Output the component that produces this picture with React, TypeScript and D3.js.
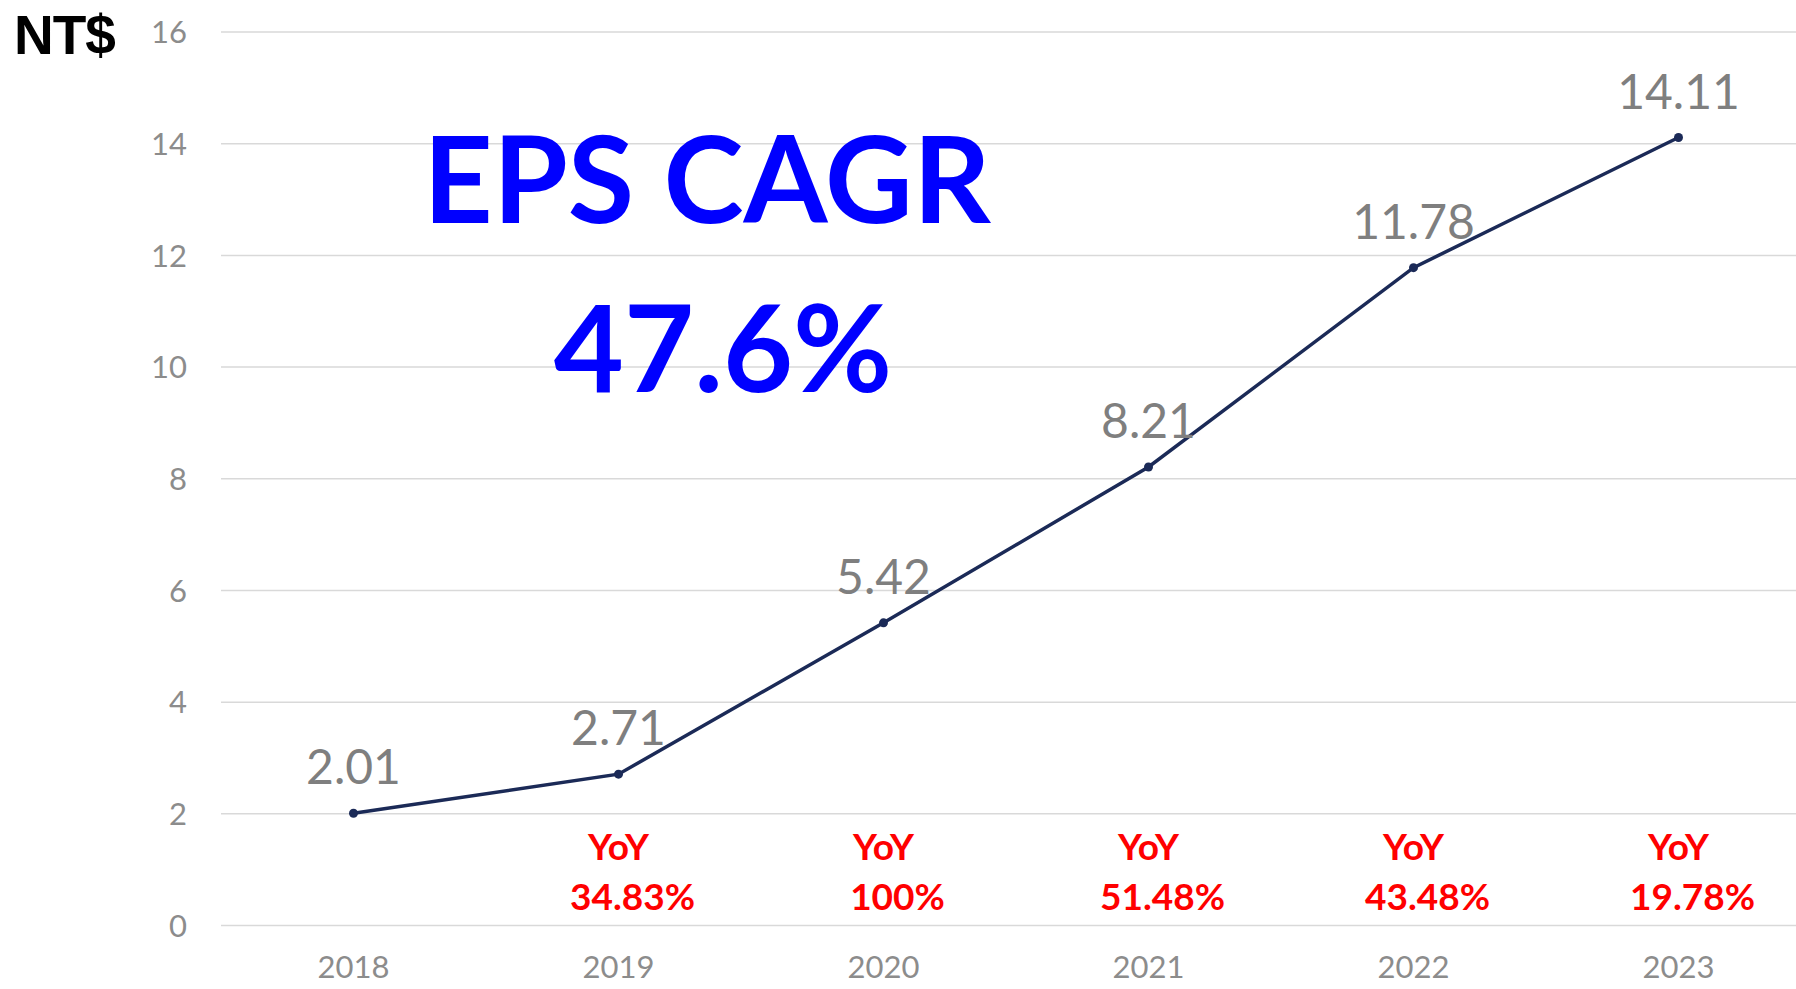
import React, { useRef, useEffect } from "react";
import * as d3 from "d3";

const years = ["2018", "2019", "2020", "2021", "2022", "2023"];
const eps = [2.01, 2.71, 5.42, 8.21, 11.78, 14.11];
const yoy = [null, "34.83%", "100%", "51.48%", "43.48%", "19.78%"];
const yTicks = [0, 2, 4, 6, 8, 10, 12, 14, 16];
const unitLabel = "NT$";
const titleLines = ["EPS CAGR", "47.6%"];

const W = 1796;
const H = 989;

export default function App() {
  const svgRef = useRef<SVGSVGElement>(null);

  useEffect(() => {
    document.body.style.margin = "0";
    document.body.style.overflow = "hidden";
    drawChart();
  }, []);

  function drawChart() {
    const svg = d3.select(svgRef.current);
    svg.selectAll("*").remove();

    const plot = { left: 221, right: 1811, top: 32, bottom: 925.5 };

    const xScale = d3
      .scaleBand()
      .domain(years)
      .range([plot.left, plot.right]);
    const xc = (d: string) => (xScale(d) as number) + xScale.bandwidth() / 2;

    const yScale = d3.scaleLinear().domain([0, 16]).range([plot.bottom, plot.top]);

    svg.append("rect").attr("width", W).attr("height", H).attr("fill", "#fff");

    // gridlines
    svg
      .append("g")
      .selectAll("line")
      .data(yTicks)
      .join("line")
      .attr("x1", plot.left)
      .attr("x2", plot.right)
      .attr("y1", (d) => yScale(d))
      .attr("y2", (d) => yScale(d))
      .attr("stroke", "#d9d9d9")
      .attr("stroke-width", 1.5);

    // y tick labels
    svg
      .append("g")
      .selectAll("text")
      .data(yTicks)
      .join("text")
      .attr("x", 187)
      .attr("y", (d) => yScale(d))
      .attr("dy", "0.36em")
      .attr("text-anchor", "end")
      .attr("font-family", "Lato, sans-serif")
      .attr("font-size", 31)
      .attr("fill", "#8c8c8c")
      .text((d) => d);

    // x labels
    svg
      .append("g")
      .selectAll("text")
      .data(years)
      .join("text")
      .attr("x", (d) => xc(d))
      .attr("y", 978)
      .attr("text-anchor", "middle")
      .attr("font-family", "Lato, sans-serif")
      .attr("font-size", 31)
      .attr("fill", "#8c8c8c")
      .text((d) => d);

    // unit label
    svg
      .append("text")
      .attr("x", 14)
      .attr("y", 54)
      .attr("font-family", "'Liberation Sans', Arial, sans-serif")
      .attr("font-weight", "bold")
      .attr("font-size", 55)
      .attr("letter-spacing", -1)
      .attr("fill", "#000")
      .text(unitLabel);

    // line
    const line = d3
      .line<number>()
      .x((d, i) => xc(years[i]))
      .y((d) => yScale(d));

    svg
      .append("path")
      .datum(eps)
      .attr("fill", "none")
      .attr("stroke", "#1b2a57")
      .attr("stroke-width", 3.5)
      .attr("d", line);

    svg
      .append("g")
      .selectAll("circle")
      .data(eps)
      .join("circle")
      .attr("cx", (d, i) => xc(years[i]))
      .attr("cy", (d) => yScale(d))
      .attr("r", 4.5)
      .attr("fill", "#1b2a57");

    // data labels
    svg
      .append("g")
      .selectAll("text")
      .data(eps)
      .join("text")
      .attr("x", (d, i) => xc(years[i]))
      .attr("y", (d) => yScale(d) - 29)
      .attr("text-anchor", "middle")
      .attr("font-family", "Lato, sans-serif")
      .attr("font-size", 48)
      .attr("fill", "#7f7f7f")
      .text((d) => d.toFixed(2));

    // YoY annotations
    const yoyG = svg
      .append("g")
      .selectAll("g")
      .data(yoy.map((v, i) => ({ v, year: years[i] })).filter((d) => d.v))
      .join("g")
      .attr("font-family", "Lato, sans-serif")
      .attr("font-weight", "bold")
      .attr("fill", "#ff0000")
      .attr("text-anchor", "middle");

    yoyG
      .append("text")
      .attr("x", (d) => xc(d.year))
      .attr("y", 860)
      .attr("font-size", 37)
      .text("YoY");

    yoyG
      .append("text")
      .attr("x", (d) => xc(d.year) + 14)
      .attr("y", 910)
      .attr("font-size", 37)
      .text((d) => d.v as string);

    // CAGR headline
    svg
      .append("g")
      .selectAll("text")
      .data(titleLines)
      .join("text")
      .attr("x", (d, i) => (i === 0 ? 707 : 723))
      .attr("y", (d, i) => (i === 0 ? 223 : 392))
      .attr("text-anchor", "middle")
      .attr("font-family", "Lato, sans-serif")
      .attr("font-weight", "bold")
      .attr("font-size", 121)
      .attr("fill", "#0000ff")
      .text((d) => d);
  }

  return (
    <div>
      <svg ref={svgRef} width={W} height={H} style={{ display: "block" }} />
    </div>
  );
}
